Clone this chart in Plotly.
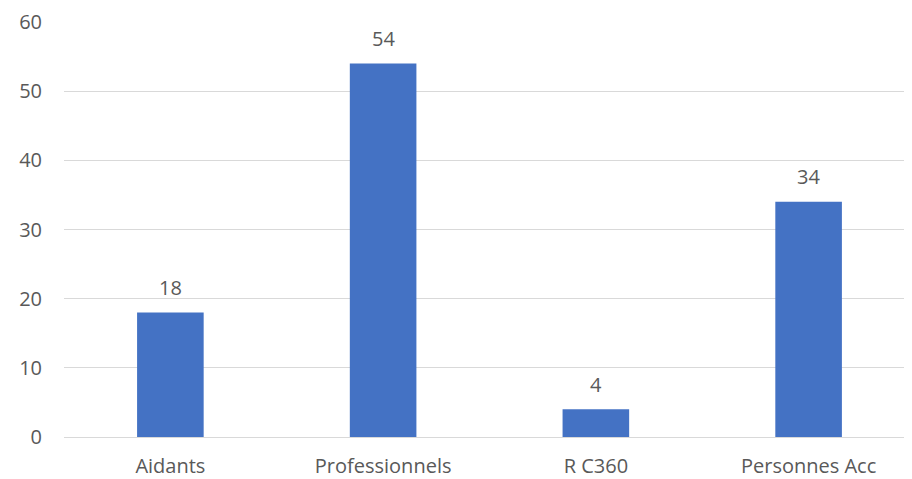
import plotly.graph_objects as go

categories = ["Aidants", "Professionnels", "R C360", "Personnes Acc"]
values = [18, 54, 4, 34]
y_ticks = [0, 10, 20, 30, 40, 50, 60]

FONT = "Open Sans"
GREY = "#595959"
FS = 20

fig = go.Figure(
    go.Bar(
        x=categories,
        y=values,
        marker=dict(color="#4472C4", line=dict(width=0)),
        width=0.313,
        hoverinfo="x+y",
    )
)

for c, v in zip(categories, values):
    fig.add_annotation(
        x=c, y=v, xref="x", yref="y",
        text=str(v), showarrow=False,
        yanchor="middle", yshift=25,
        font=dict(family=FONT, size=FS, color=GREY),
    )

# page body has an 8px default margin, so offset the figure accordingly
fig.update_layout(
    width=904,
    height=471,
    margin=dict(l=56, r=0, t=14, b=42, autoexpand=False),
    paper_bgcolor="white",
    plot_bgcolor="white",
    showlegend=False,
    font=dict(family=FONT, size=FS, color=GREY),
    xaxis=dict(
        range=[-0.5, 3.486],
        showgrid=False,
        showline=False,
        zeroline=False,
        tickfont=dict(family=FONT, size=FS, color=GREY),
        ticklabelstandoff=15,
    ),
    yaxis=dict(
        range=[0, 60],
        tickvals=y_ticks,
        showgrid=True,
        gridcolor="#d9d9d9",
        gridwidth=1,
        zeroline=True,
        zerolinecolor="#d9d9d9",
        zerolinewidth=1,
        showline=False,
        tickfont=dict(family=FONT, size=FS, color=GREY),
        ticklabelstandoff=21,
    ),
)

fig.write_html("out.html")
